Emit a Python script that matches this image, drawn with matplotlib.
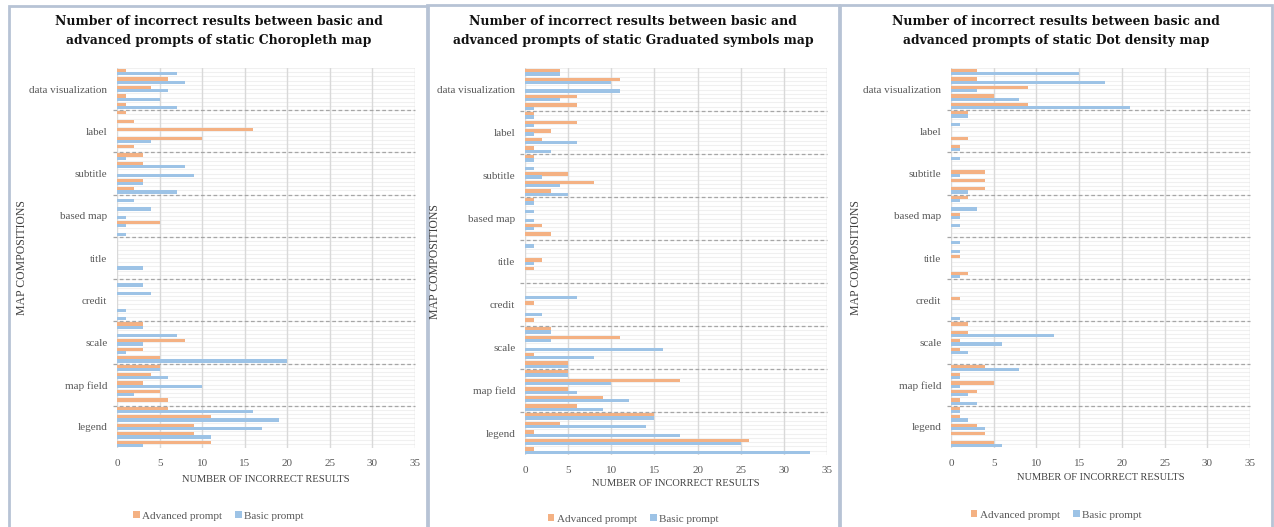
import matplotlib
matplotlib.use("Agg")
import matplotlib.pyplot as plt
import matplotlib.transforms as mtransforms
from matplotlib.patches import Rectangle
import numpy as np

# categories from top to bottom, each has 5 sub-rows (advanced bar above basic bar)
categories = ["data visualization", "label", "subtitle", "based map", "title",
              "credit", "scale", "map field", "legend"]

# ---- Choropleth ----
chor_adv = [[1, 6, 4, 1, 1], [1, 2, 16, 10, 2], [3, 3, 0, 3, 2], [0, 0, 0, 5, 0],
            [0, 0, 0, 0, 0], [0, 0, 0, 0, 0], [3, 0, 8, 3, 5], [5, 4, 3, 5, 6],
            [6, 11, 9, 9, 11]]
chor_basic = [[7, 8, 6, 5, 7], [0, 0, 0, 4, 0], [1, 8, 9, 3, 7], [2, 4, 1, 1, 1],
              [0, 0, 0, 3, 0], [3, 4, 0, 1, 1], [3, 7, 3, 1, 20], [5, 6, 10, 2, 0],
              [16, 19, 17, 11, 3]]

# ---- Graduated symbols ----
grad_adv = [[4, 11, 0, 6, 6], [1, 6, 3, 2, 1], [1, 0, 5, 8, 3], [1, 0, 0, 2, 3],
            [0, 0, 2, 1, 0], [0, 0, 1, 0, 1], [3, 11, 0, 1, 5], [5, 18, 5, 9, 6],
            [15, 4, 1, 26, 1]]
grad_basic = [[4, 10, 11, 4, 1], [1, 1, 1, 6, 3], [1, 1, 2, 4, 5], [1, 1, 1, 1, 0],
              [1, 0, 1, 0, 0], [0, 6, 0, 2, 0], [3, 3, 16, 8, 5], [5, 10, 6, 12, 9],
              [15, 14, 18, 25, 33]]

# ---- Dot density ----
dot_adv = [[3, 3, 9, 5, 9], [2, 0, 0, 2, 1], [0, 0, 4, 4, 4], [2, 0, 1, 0, 0],
           [0, 0, 1, 0, 2], [0, 0, 1, 0, 0], [2, 2, 1, 1, 0], [4, 1, 5, 3, 1],
           [1, 1, 3, 4, 5]]
dot_basic = [[15, 18, 3, 8, 21], [2, 1, 0, 0, 1], [1, 0, 1, 0, 2], [1, 3, 1, 1, 0],
             [1, 1, 0, 0, 1], [0, 0, 0, 0, 1], [0, 12, 6, 2, 0], [8, 1, 1, 2, 3],
             [1, 2, 4, 0, 6]]

titles = ["Number of incorrect results between basic and\nadvanced prompts of static Choropleth map",
          "Number of incorrect results between basic and\nadvanced prompts of static Graduated symbols map",
          "Number of incorrect results between basic and\nadvanced prompts of static Dot density map"]
x_ticks = [0, 5, 10, 15, 20, 25, 30, 35]

ORANGE = "#f4b183"
BLUE = "#9dc3e6"
W, H = 1274, 527

# panel layout in pixels: frame left/right/top, axes left/right/top/bottom, text rows
panels = [
    dict(fl=9, fr=428, ft=6, ax0=117, ax1=415, at=68, ab=448, tick=460, xl=479, leg=516, yl=22),
    dict(fl=427, fr=839, ft=5, ax0=525, ax1=827, at=68, ab=455, tick=466, xl=484, leg=519, yl=435),
    dict(fl=840, fr=1272, ft=5, ax0=951, ax1=1250, at=68, ab=448, tick=460, xl=478, leg=515, yl=856),
]
data = [(chor_adv, chor_basic), (grad_adv, grad_basic), (dot_adv, dot_basic)]

serif = "Liberation Serif"
fig = plt.figure(figsize=(W / 100, H / 100), dpi=100)

for p, (adv, basic), title in zip(panels, data, titles):
    # frame
    fig.patches.append(Rectangle((p["fl"] / W, -0.05), (p["fr"] - p["fl"]) / W, 1.05 - p["ft"] / H,
                                 transform=fig.transFigure, fill=False, ec="#b7c3d5", lw=2))
    ax = fig.add_axes([p["ax0"] / W, 1 - p["ab"] / H, (p["ax1"] - p["ax0"]) / W, (p["ab"] - p["at"]) / H])
    n = len(categories) * 5
    adv_flat = np.array(adv).ravel()
    basic_flat = np.array(basic).ravel()
    ypos = n - np.arange(n) - 0.5
    ax.barh(ypos + 0.19, adv_flat, height=0.38, color=ORANGE, zorder=3)
    ax.barh(ypos - 0.19, basic_flat, height=0.38, color=BLUE, zorder=3)

    for k in range(2 * n + 1):
        ax.axhline(k * 0.5, color="#f0f0f0", lw=0.8, zorder=0)
    trans = mtransforms.blended_transform_factory(ax.transAxes, ax.transData)
    for g in range(1, len(categories)):
        ax.plot([-0.015, 1], [g * 5, g * 5], transform=trans, clip_on=False,
                color="#a6a6a6", lw=0.9, ls=(0, (3, 2)), zorder=4)

    ax.set_xlim(0, 35)
    ax.set_ylim(0, n)
    ax.set_xticks(x_ticks)
    ax.grid(axis="x", color="#d9d9d9", lw=1, zorder=1)
    ax.set_yticks([n - g * 5 - 2.5 for g in range(len(categories))])
    ax.set_yticklabels(categories)
    ax.tick_params(length=0, labelcolor="#595959", labelsize=8)
    ax.tick_params(axis="y", pad=7)
    ax.tick_params(axis="x", pad=8)
    for lbl in ax.get_xticklabels() + ax.get_yticklabels():
        lbl.set_family(serif)
    for s in ax.spines.values():
        s.set_visible(False)

    cx = (p["fl"] + p["fr"]) / 2 / W
    fig.text(cx, 1 - 31 / H, title, ha="center", va="center", fontsize=8.9,
             fontweight="bold", family="DejaVu Serif", linespacing=1.55, color="#111111")
    fig.text((p["ax0"] + p["ax1"]) / 2 / W, 1 - p["xl"] / H, "NUMBER OF INCORRECT RESULTS",
             ha="center", va="center", fontsize=7.5, family=serif, color="#404040")
    fig.text(p["yl"] / W, 1 - (p["at"] + p["ab"]) / 2 / H, "MAP COMPOSITIONS", rotation=90,
             ha="center", va="center", fontsize=8.5, family=serif, color="#404040")
    h1 = ax.bar(0, 0, color=ORANGE, label="Advanced prompt")
    h2 = ax.bar(0, 0, color=BLUE, label="Basic prompt")
    fig.legend(handles=[h1, h2], loc="center", bbox_to_anchor=(cx, 1 - p["leg"] / H),
               ncol=2, frameon=False, handlelength=0.6, handleheight=0.6, handletextpad=0.2,
               columnspacing=1.2, prop={"family": serif, "size": 8}, labelcolor="#595959")

fig.savefig("out.png", dpi=100)
